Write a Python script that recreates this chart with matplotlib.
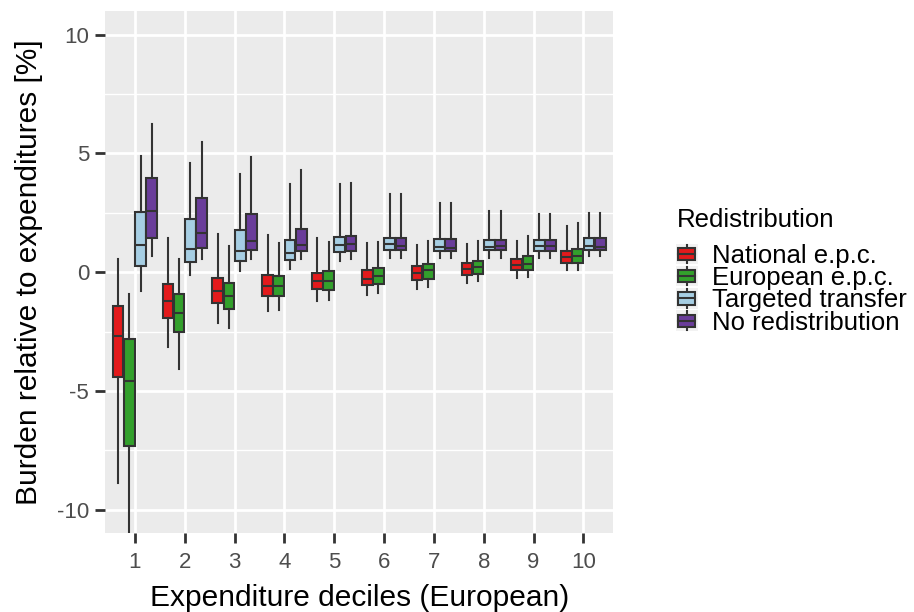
import numpy as np
import matplotlib
matplotlib.use("Agg")
import matplotlib.pyplot as plt
from matplotlib.patches import Rectangle
from matplotlib.lines import Line2D
from matplotlib.legend_handler import HandlerBase

plt.rcParams['font.family'] = ['Liberation Sans', 'DejaVu Sans']

deciles = list(range(1, 11))
series_names = ['National e.p.c.', 'European e.p.c.', 'Targeted transfer', 'No redistribution']
series_colors = ['#E31A1C', '#33A02C', '#A6CEE3', '#6A3D9A']

# per decile: lower whisker, q1, median, q3, upper whisker
national = [
    [-8.89, -4.41, -2.70, -1.44, 0.56],
    [-3.17, -1.95, -1.23, -0.49, 1.43],
    [-2.16, -1.32, -0.81, -0.25, 1.62],
    [-1.63, -1.01, -0.57, -0.12, 1.58],
    [-1.23, -0.71, -0.38, -0.04, 1.44],
    [-0.97, -0.52, -0.28, 0.07, 1.24],
    [-0.71, -0.32, -0.02, 0.26, 1.15],
    [-0.46, -0.11, 0.13, 0.40, 1.17],
    [-0.23, 0.07, 0.29, 0.56, 1.33],
    [0.07, 0.40, 0.63, 0.89, 1.95],
]
european = [
    [-12.3, -7.33, -4.57, -2.82, -0.92],
    [-4.06, -2.54, -1.70, -0.94, 0.56],
    [-2.37, -1.55, -1.02, -0.44, 1.10],
    [-1.61, -1.02, -0.60, -0.16, 1.23],
    [-1.16, -0.74, -0.37, 0.04, 1.29],
    [-0.88, -0.50, -0.18, 0.17, 1.27],
    [-0.63, -0.27, 0.07, 0.34, 1.33],
    [-0.39, -0.06, 0.22, 0.47, 1.31],
    [-0.21, 0.10, 0.35, 0.66, 1.53],
    [0.10, 0.40, 0.66, 0.97, 2.08],
]
targeted = [
    [-0.81, 0.24, 1.15, 2.55, 4.90],
    [-0.10, 0.42, 0.97, 2.25, 4.61],
    [0.04, 0.46, 0.88, 1.78, 4.13],
    [0.14, 0.52, 0.82, 1.36, 3.70],
    [0.49, 0.85, 1.15, 1.47, 3.70],
    [0.59, 0.94, 1.18, 1.43, 3.29],
    [0.59, 0.91, 1.08, 1.40, 2.92],
    [0.61, 0.94, 1.06, 1.36, 2.59],
    [0.61, 0.91, 1.12, 1.37, 2.45],
    [0.66, 0.93, 1.10, 1.45, 2.50],
]
no_redist = [
    [0.68, 1.45, 2.59, 3.97, 6.23],
    [0.57, 1.01, 1.65, 3.11, 5.49],
    [0.55, 0.94, 1.32, 2.45, 4.84],
    [0.56, 0.91, 1.15, 1.82, 4.30],
    [0.56, 0.88, 1.18, 1.53, 3.76],
    [0.59, 0.94, 1.09, 1.43, 3.29],
    [0.59, 0.91, 1.03, 1.40, 2.92],
    [0.61, 0.94, 1.10, 1.36, 2.59],
    [0.61, 0.91, 1.10, 1.37, 2.45],
    [0.66, 0.93, 1.08, 1.45, 2.50],
]
all_series = [national, european, targeted, no_redist]

EDGE = '#333333'
PANEL = '#EBEBEB'
LW = 1.5


class BoxKeyHandler(HandlerBase):
    # small boxplot glyph on a grey key background, like ggplot's legend keys
    def create_artists(self, legend, orig_handle, xdescent, ydescent,
                       width, height, fontsize, trans):
        x0, y0 = -xdescent, -ydescent
        bg = Rectangle((x0, y0), width, height, fc='#F2F2F2', ec='none', transform=trans)
        cx = x0 + width / 2
        cy = y0 + height / 2
        bw, bh = width * 0.76, height * 0.6
        whisk = Line2D([cx, cx], [y0 + height * 0.05, y0 + height * 0.95],
                       color=EDGE, lw=LW, transform=trans)
        box = Rectangle((cx - bw / 2, cy - bh / 2), bw, bh,
                        fc=orig_handle.get_facecolor(), ec=EDGE, lw=LW, transform=trans)
        med = Line2D([cx - bw / 2, cx + bw / 2], [cy, cy], color=EDGE, lw=LW, transform=trans)
        return [bg, whisk, box, med]


fig = plt.figure(figsize=(9.14, 6.12), dpi=100)
ax = fig.add_axes([0.1149, 0.1286, 0.5561, 0.8534])
ax.set_facecolor(PANEL)

dodge = 0.225
for k, (vals, col) in enumerate(zip(all_series, series_colors)):
    stats = [dict(whislo=v[0], q1=v[1], med=v[2], q3=v[3], whishi=v[4], fliers=[])
             for v in vals]
    pos = [d + (k - 1.5) * dodge for d in deciles]
    ax.bxp(stats, positions=pos, widths=0.215, patch_artist=True,
           showcaps=False, showfliers=False, manage_ticks=False,
           boxprops=dict(facecolor=col, edgecolor=EDGE, linewidth=LW),
           medianprops=dict(color=EDGE, linewidth=LW),
           whiskerprops=dict(color=EDGE, linewidth=LW), zorder=3)

ax.set_xlim(0.4, 10.6)
ax.set_ylim(-11, 11)
ax.set_xticks(deciles)
ax.set_xticklabels([str(d) for d in deciles])
yt = [-10, -5, 0, 5, 10]
ax.set_yticks(yt)
ax.set_yticklabels([str(v) for v in yt])
ax.set_yticks([-7.5, -2.5, 2.5, 7.5], minor=True)

ax.grid(which='major', color='white', linewidth=2.0, zorder=0)
ax.grid(which='minor', axis='y', color='white', linewidth=1.0, zorder=0)
ax.set_axisbelow(True)
for s in ax.spines.values():
    s.set_visible(False)
ax.tick_params(which='major', length=7.5, width=2.0, color=EDGE,
               labelsize=16, labelcolor='#4D4D4D')
ax.tick_params(axis='x', which='major', pad=6)
ax.tick_params(axis='y', which='major', pad=4)
ax.tick_params(which='minor', length=0)

ax.set_xlabel('Expenditure deciles (European)', fontsize=21.5)
ax.set_ylabel('Burden relative to expenditures [%]', fontsize=21.5)
ax.xaxis.set_label_coords(0.5, -0.097)
ax.yaxis.set_label_coords(-0.122, 0.5)

handles = [Rectangle((0, 0), 1, 1, fc=c) for c in series_colors]
leg = fig.legend(handles, series_names,
                 handler_map={Rectangle: BoxKeyHandler()},
                 loc='center left', bbox_to_anchor=(0.7394, 0.5274),
                 frameon=False, fontsize=18.5,
                 handlelength=0.845, handleheight=0.845, labelspacing=-0.075,
                 handletextpad=0.55, borderpad=0, borderaxespad=0)
fig.text(0.7404, 0.6296, 'Redistribution', fontsize=18.5, ha='left', va='baseline')

fig.savefig('out.png', dpi=100)
